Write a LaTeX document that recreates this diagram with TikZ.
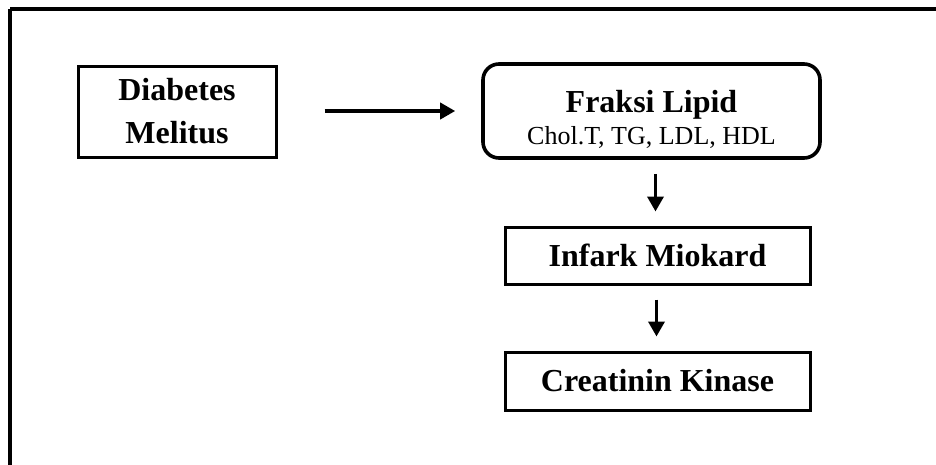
\documentclass[tikz,border=0pt]{standalone}
\usepackage{fontspec}
\setmainfont{Liberation Serif}
\usetikzlibrary{arrows.meta}
\begin{document}
\begin{tikzpicture}[x=1pt,y=-1pt,
  boxstyle/.style={draw,line width=3pt,inner sep=0pt,align=center,font=\fontsize{32}{36}\selectfont\bfseries},
  txt/.style={inner sep=0pt,align=center,font=\fontsize{32}{36}\selectfont\bfseries},
  arr/.style={line width=3.6pt,-{Triangle[length=15pt,width=16pt]}}]
\useasboundingbox (0,0) rectangle (936,464);
\draw[line width=3.2pt] (10,9) coordinate (fa) -- (960,9) (10,9) -- (10,490);
\node[boxstyle,minimum width=198pt,minimum height=91pt] (dm) at (177,111.5) {Diabetes\\[7pt]Melitus};
\node[boxstyle,line width=3.6pt,rounded corners=16pt,minimum width=337pt,minimum height=94pt] (fl) at (651.5,111) {};
\node[txt] (flt) at ([yshift=-8pt]fl.center) {Fraksi Lipid\\[-4pt]{\fontsize{26}{30}\selectfont\mdseries Chol.T, TG, LDL, HDL}};
\node[boxstyle,minimum width=305pt,minimum height=57pt] (im) at (657.5,255.5) {Infark Miokard};
\node[boxstyle,minimum width=305pt,minimum height=58pt] (ck) at (657.5,381) {Creatinin Kinase};
\draw[arr,shorten <=47pt,shorten >=26pt] (dm.east |- fl.west) -- (fl.west);
\draw[arr,shorten <=14pt,shorten >=14pt] ([xshift=-2pt]im.north |- fl.south) -- ([xshift=-2pt]im.north);
\draw[arr,shorten <=14pt,shorten >=14pt] ([xshift=-1pt]im.south) -- ([xshift=-1pt]ck.north);
\end{tikzpicture}
\end{document}
